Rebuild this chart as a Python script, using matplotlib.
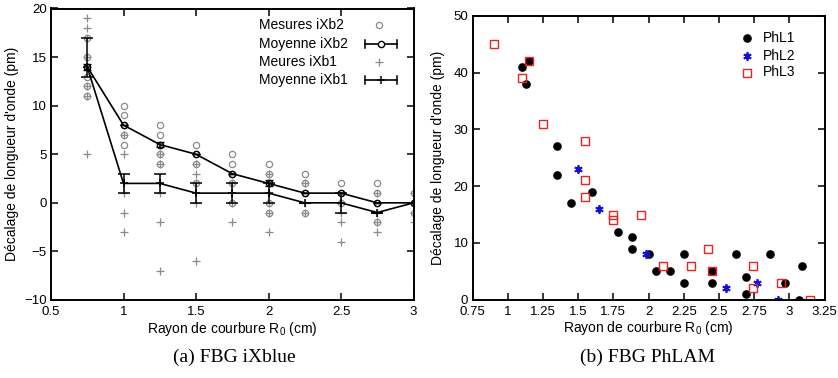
import matplotlib
matplotlib.use("Agg")
import matplotlib.pyplot as plt

plt.rcParams['font.family'] = ['Liberation Sans', 'DejaVu Sans']
plt.rcParams['mathtext.fontset'] = 'custom'
plt.rcParams['mathtext.rm'] = 'Liberation Sans'

# ---- (a) FBG iXblue -------------------------------------------------------
radius = [0.75, 1.0, 1.25, 1.5, 1.75, 2.0, 2.25, 2.5, 2.75, 3.0]

ixb2_meas = [
    [17, 15, 14, 13, 12, 11],
    [10, 9, 8, 7, 6],
    [8, 7, 6, 5, 4],
    [6, 5, 4, 2],
    [5, 4, 3, 2, 0],
    [4, 3, 2, 0, -1],
    [3, 2, 1, -1],
    [2, 1, 0],
    [2, 1, 0, -2],
    [1, 0, -1],
]
ixb2_mean = [14, 8, 6, 5, 3, 2, 1, 1, 0, 0]
ixb2_err = [0.3, 0, 0.3, 0, 0, 0.3, 0, 0, 0, 0]

ixb1_meas = [
    [19, 18, 17, 15, 12, 11, 5],
    [7, 5, 1, -1, -3],
    [5, 4, 1, -2, -7],
    [4, 3, 2, 0, -6],
    [2, 0, -2],
    [3, 1, 0, -1, -3],
    [2, 0, -1],
    [0, -1, -2, -4],
    [1, -1, -2, -3],
    [1, 0, -1, -2],
]
ixb1_mean = [14, 2, 2, 1, 1, 1, 0, 0, -1, 0]
ixb1_err_lo = [1, 1, 1, 1, 1, 1, 0, 1, 0, 0]
ixb1_err_hi = [3, 1, 1, 1, 1, 1, 0, 1, 0, 0]

legend_a = ['Mesures iXb2', 'Moyenne iXb2', 'Meures iXb1', 'Moyenne iXb1']

# ---- (b) FBG PhLAM --------------------------------------------------------
phl1_x = [1.10, 1.15, 1.13, 1.35, 1.35, 1.45, 1.60, 1.78, 1.88, 1.88, 2.00,
          2.05, 2.15, 2.25, 2.25, 2.45, 2.45, 2.62, 2.69, 2.69, 2.86, 2.97,
          3.07, 3.09]
phl1_y = [41, 42, 38, 27, 22, 17, 19, 12, 11, 9, 8,
          5, 5, 8, 3, 5, 3, 8, 4, 1, 8, 3,
          0, 6]

phl2_x = [1.50, 1.65, 1.98, 2.55, 2.77, 2.92]
phl2_y = [23, 16, 8, 2, 3, 0]

phl3_x = [0.90, 1.15, 1.10, 1.25, 1.55, 1.55, 1.55, 1.75, 1.75, 1.95, 2.10,
          2.30, 2.42, 2.45, 2.74, 2.74, 2.94, 3.15]
phl3_y = [45, 42, 39, 31, 28, 21, 18, 15, 14, 15, 6,
          6, 9, 5, 6, 2, 3, 0]

legend_b = ['PhL1', 'PhL2', 'PhL3']

xticks_a = [0.5, 1, 1.5, 2, 2.5, 3]
xticklabels_a = ['0.5', '1', '1.5', '2', '2.5', '3']
yticks_a = [-10, -5, 0, 5, 10, 15, 20]

xticks_b = [0.75, 1, 1.25, 1.5, 1.75, 2, 2.25, 2.5, 2.75, 3, 3.25]
xticklabels_b = ['0.75', '1', '1.25', '1.5', '1.75', '2', '2.25', '2.5',
                 '2.75', '3', '3.25']
yticks_b = [0, 10, 20, 30, 40, 50]

GRAY = '#8a8a8a'
BLUE = '#1010e0'
RED = '#ee2020'
xlabel = r'Rayon de courbure R$_0$ (cm)'
ylabel = "Décalage de longueur d'onde (pm)"

W, H = 838, 378
fig = plt.figure(figsize=(W / 100, H / 100), dpi=100)
ax1 = fig.add_axes([51 / W, 1 - 300 / H, 362.5 / W, 291.5 / H])
ax2 = fig.add_axes([472.5 / W, 1 - 299.7 / H, 352 / W, 284 / H])


def style_axes(ax):
    for s in ax.spines.values():
        s.set_linewidth(1.4)
    ax.tick_params(direction='in', length=5, width=1.1, top=True, right=True,
                   labelsize=9.5)
    ax.tick_params(axis='x', pad=4.5)
    ax.tick_params(axis='y', pad=3)


def fig_xy(px, py):
    """Pixel position (from top-left) to figure fraction."""
    return px / W, 1 - py / H


# panel (a)
for xi, vals in zip(radius, ixb2_meas):
    ax1.plot([xi] * len(vals), vals, linestyle='none', marker='o', ms=4.5,
             mfc='none', mec=GRAY, mew=0.9)
for xi, vals in zip(radius, ixb1_meas):
    ax1.plot([xi] * len(vals), vals, linestyle='none', marker='+', ms=6,
             color=GRAY, mew=0.9)

ax1.errorbar(radius, ixb2_mean, yerr=ixb2_err, color='black', lw=1.2,
             marker='o', ms=4.5, mfc='none', mec='black', mew=1.0,
             capsize=3, capthick=1.1, elinewidth=1.1)
ax1.errorbar(radius, ixb1_mean, yerr=[ixb1_err_lo, ixb1_err_hi],
             color='black', lw=1.2, marker='+', ms=6, mew=1.1,
             capsize=4, capthick=1.1, elinewidth=1.1)

ax1.set_xlim(0.5, 3)
ax1.set_ylim(-10, 20)
ax1.set_xticks(xticks_a)
ax1.set_xticklabels(xticklabels_a)
ax1.set_yticks(yticks_a)
style_axes(ax1)
ax1.set_xlabel(xlabel, fontsize=10, labelpad=1)
ax1.set_ylabel(ylabel, fontsize=10, labelpad=4)

# key for panel (a): left-aligned labels, sample to the right
rows_a = [25, 44, 62, 80]
for label, py in zip(legend_a, rows_a):
    fx, fy = fig_xy(259, py)
    fig.text(fx, fy, label, ha='left', va='center', fontsize=10)

def key_line(x0, x1, py, **kw):
    a, b = fig_xy(x0, py)
    c, _ = fig_xy(x1, py)
    fig.add_artist(plt.Line2D([a, c], [b, b], **kw))

def key_tick(px, py, half=4):
    a, b0 = fig_xy(px, py - half)
    _, b1 = fig_xy(px, py + half)
    fig.add_artist(plt.Line2D([a, a], [b0, b1], color='black', lw=1.1))

cx, cy = fig_xy(379, rows_a[0])
fig.add_artist(plt.Line2D([cx], [cy], linestyle='none', marker='o', ms=4.5,
                          mfc='none', mec=GRAY, mew=0.9))
for py, mk in [(rows_a[1], 'o'), (rows_a[3], '+')]:
    key_line(365, 397, py, color='black', lw=1.2)
    key_tick(365, py)
    key_tick(397, py)
    mx, my = fig_xy(381, py)
    if mk == 'o':
        fig.add_artist(plt.Line2D([mx], [my], linestyle='none', marker='o',
                                  ms=4.5, mfc='white', mec='black', mew=1.0))
    else:
        fig.add_artist(plt.Line2D([mx], [my], linestyle='none', marker='+',
                                  ms=6, color='black', mew=1.1))
cx, cy = fig_xy(379, rows_a[2])
fig.add_artist(plt.Line2D([cx], [cy], linestyle='none', marker='+', ms=6,
                          color=GRAY, mew=0.9))

# panel (b)
ax2.plot(phl1_x, phl1_y, linestyle='none', marker='o', ms=5.2, color='black')
ax2.plot(phl2_x, phl2_y, linestyle='none', marker=(6, 2, 0), ms=6,
         color=BLUE, mew=1.3)
ax2.plot(phl3_x, phl3_y, linestyle='none', marker='s', ms=5.5, mfc='none',
         mec=RED, mew=1.0)

ax2.set_xlim(0.75, 3.25)
ax2.set_ylim(0, 50)
ax2.set_xticks(xticks_b)
ax2.set_xticklabels(xticklabels_b)
ax2.set_yticks(yticks_b)
style_axes(ax2)
ax2.set_xlabel(xlabel, fontsize=10, labelpad=1)
ax2.set_ylabel(ylabel, fontsize=10, labelpad=6)

# key for panel (b): sample first, then label
rows_b = [38, 55.5, 72.5]
key_styles = [
    dict(marker='o', ms=5.2, color='black', mec='black'),
    dict(marker=(6, 2, 0), ms=6, color=BLUE, mec=BLUE, mew=1.3),
    dict(marker='s', ms=5.5, mfc='none', mec=RED, mew=1.0),
]
for label, py, st in zip(legend_b, rows_b, key_styles):
    mx, my = fig_xy(747, py)
    fig.add_artist(plt.Line2D([mx], [my], linestyle='none', **st))
    tx, ty = fig_xy(763, py)
    fig.text(tx, ty, label, ha='left', va='center', fontsize=10)

# captions
for px, text in [(234, '(a) FBG iXblue'), (648, '(b) FBG PhLAM')]:
    fx, fy = fig_xy(px, 357)
    fig.text(fx, fy, text, ha='center', va='center', fontsize=14,
             family=['Liberation Serif', 'DejaVu Serif'])

fig.savefig('out.png', dpi=100)
